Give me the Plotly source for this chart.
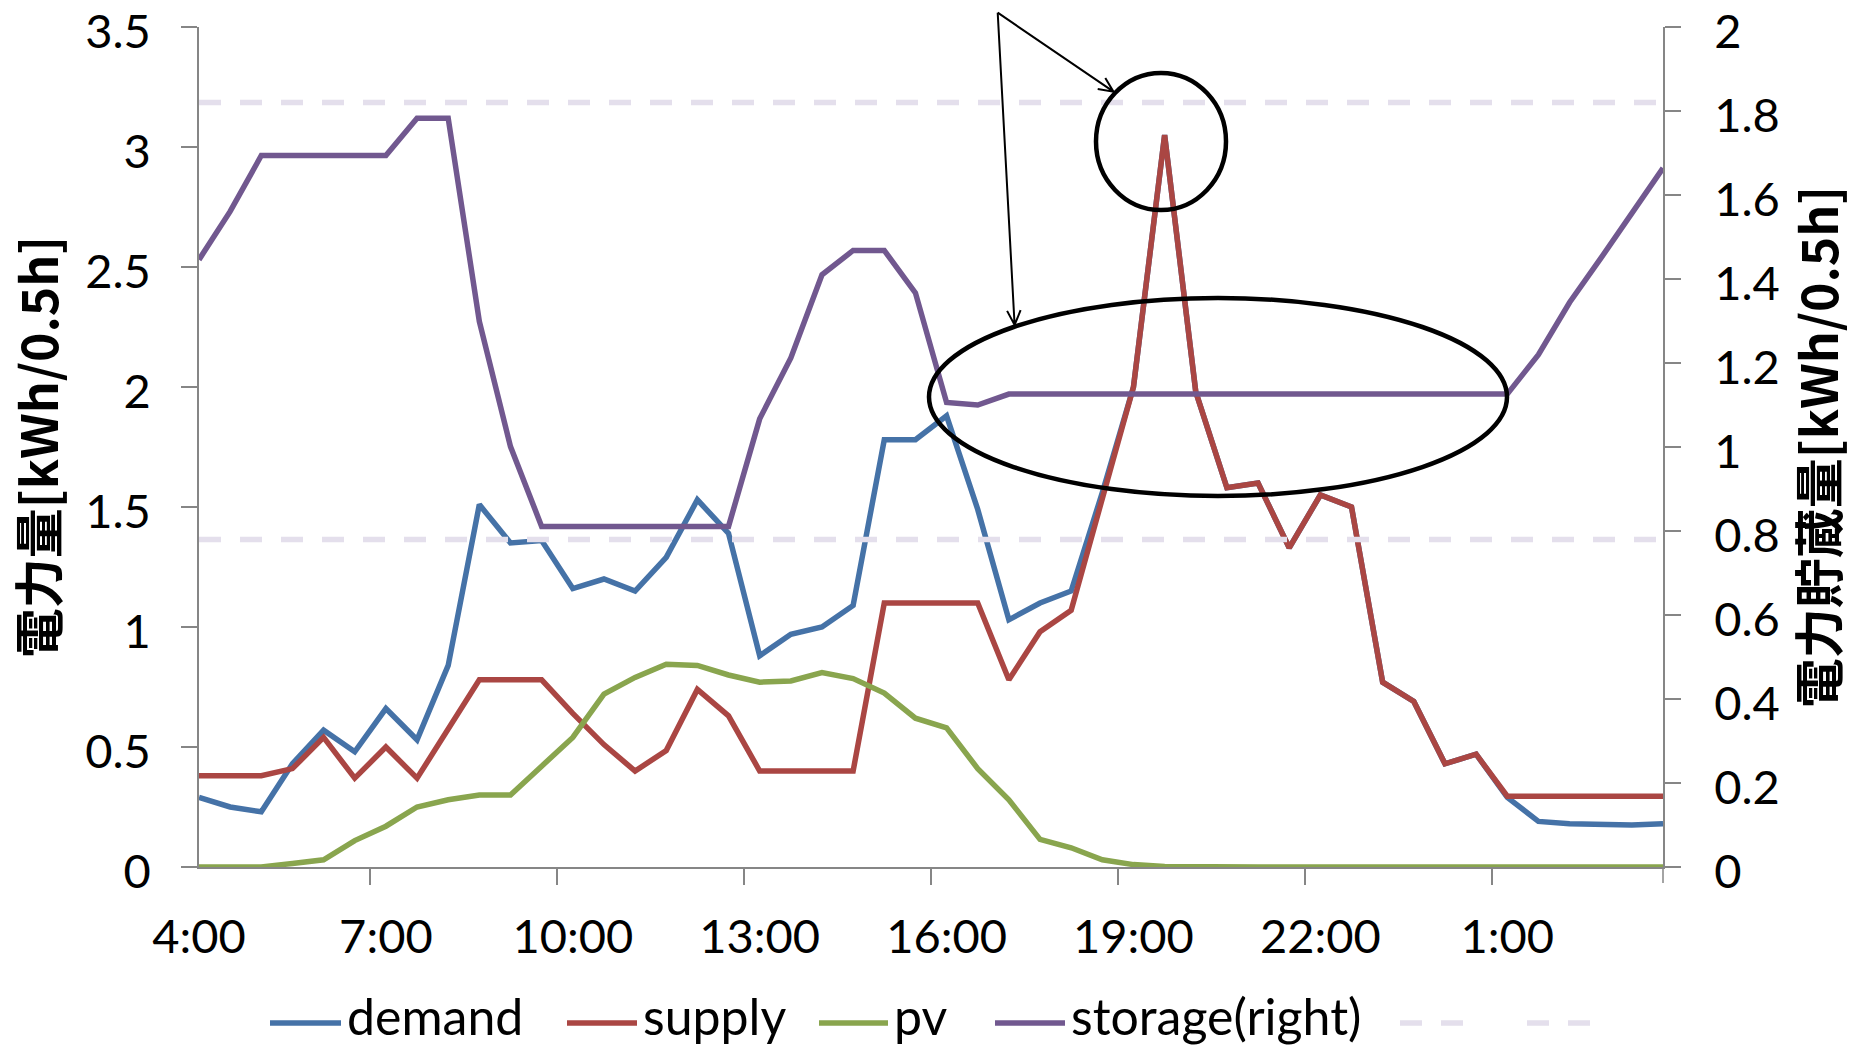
import plotly.graph_objects as go

# ---------------- data ----------------
times = ["4:00", "4:30", "5:00", "5:30", "6:00", "6:30", "7:00", "7:30",
         "8:00", "8:30", "9:00", "9:30", "10:00", "10:30", "11:00", "11:30",
         "12:00", "12:30", "13:00", "13:30", "14:00", "14:30", "15:00", "15:30",
         "16:00", "16:30", "17:00", "17:30", "18:00", "18:30", "19:00", "19:30",
         "20:00", "20:30", "21:00", "21:30", "22:00", "22:30", "23:00", "23:30",
         "0:00", "0:30", "1:00", "1:30", "2:00", "2:30", "3:00", "3:30"]

demand = [0.29, 0.25, 0.23, 0.43, 0.57, 0.48, 0.66, 0.53, 0.84, 1.51,
          1.35, 1.36, 1.16, 1.20, 1.15, 1.29, 1.53, 1.39, 0.88, 0.97,
          1.00, 1.09, 1.78, 1.78, 1.88, 1.49, 1.03, 1.10, 1.15, 1.56,
          2.00, 3.05, 1.98, 1.58, 1.60, 1.33, 1.55, 1.50, 0.77, 0.69,
          0.43, 0.47, 0.29, 0.19, 0.18, 0.175, 0.175, 0.18]

supply = [0.38, 0.38, 0.38, 0.41, 0.54, 0.37, 0.50, 0.37, 0.58, 0.78,
          0.78, 0.78, 0.64, 0.51, 0.40, 0.485, 0.74, 0.63, 0.40, 0.40,
          0.40, 0.40, 1.10, 1.10, 1.10, 1.10, 0.78, 0.98, 1.07, 1.53,
          2.00, 3.05, 1.98, 1.58, 1.60, 1.33, 1.55, 1.50, 0.77, 0.69,
          0.43, 0.47, 0.295, 0.295, 0.295, 0.295, 0.295, 0.295]

pv = [0.0, 0.0, 0.0, 0.015, 0.03, 0.11, 0.17, 0.25, 0.28, 0.30,
      0.30, 0.42, 0.54, 0.72, 0.79, 0.845, 0.84, 0.80, 0.77, 0.775,
      0.81, 0.785, 0.725, 0.62, 0.58, 0.41, 0.28, 0.115, 0.08, 0.03,
      0.01, 0.002, 0.0, 0.0, 0.0, 0.0, 0.0, 0.0, 0.0, 0.0,
      0.0, 0.0, 0.0, 0.0, 0.0, 0.0, 0.0, 0.0]

storage = [1.446, 1.561, 1.694, 1.694, 1.694, 1.694, 1.694, 1.783, 1.783, 1.299,
           1.001, 0.811, 0.811, 0.811, 0.811, 0.811, 0.811, 0.811, 1.067, 1.212,
           1.41, 1.468, 1.468, 1.367, 1.106, 1.10, 1.126, 1.126, 1.126, 1.126,
           1.126, 1.126, 1.126, 1.126, 1.126, 1.126, 1.126, 1.126, 1.126, 1.126,
           1.126, 1.126, 1.126, 1.22, 1.344, 1.449, 1.556, 1.664]

limit_upper = [1.82] * len(times)
limit_lower = [0.78] * len(times)

series_names = ["demand", "supply", "pv", "storage(right)"]

left_ticks = [0, 0.5, 1, 1.5, 2, 2.5, 3, 3.5]
right_ticks = [0, 0.2, 0.4, 0.6, 0.8, 1, 1.2, 1.4, 1.6, 1.8, 2]

# ---------------- style ----------------
C_DEMAND = "#4572A7"
C_SUPPLY = "#AA4643"
C_PV = "#89A54E"
C_STORAGE = "#71588F"
C_LIMIT = "#E4DFEC"
C_AXIS = "#868686"
LW = 5.5
LIMIT_DASH = "22px,19px"

fig = go.Figure()
fig.add_trace(go.Scatter(x=times, y=demand, name=series_names[0], mode="lines",
                         line=dict(color=C_DEMAND, width=LW)))
fig.add_trace(go.Scatter(x=times, y=supply, name=series_names[1], mode="lines",
                         line=dict(color=C_SUPPLY, width=LW)))
fig.add_trace(go.Scatter(x=times, y=pv, name=series_names[2], mode="lines",
                         line=dict(color=C_PV, width=LW)))
fig.add_trace(go.Scatter(x=times, y=storage, name=series_names[3], mode="lines",
                         yaxis="y2", line=dict(color=C_STORAGE, width=LW)))
fig.add_trace(go.Scatter(x=times, y=limit_upper, name="", mode="lines", yaxis="y2",
                         line=dict(color=C_LIMIT, width=5.5, dash=LIMIT_DASH)))
fig.add_trace(go.Scatter(x=times, y=limit_lower, name="", mode="lines", yaxis="y2",
                         line=dict(color=C_LIMIT, width=5.5, dash=LIMIT_DASH)))

# plot area in pixels
W, H = 1861, 1048
L, R, T, B = 199, 198, 27, 181
PW, PH = W - L - R, H - T - B


def px(xp):
    return (xp - L) / PW


def py(yp):
    return (H - B - yp) / PH


axis_common = dict(showline=True, linecolor=C_AXIS, linewidth=1.5,
                   ticks="outside", ticklen=16, tickwidth=1.5, tickcolor=C_AXIS,
                   showgrid=False, zeroline=False, automargin=False,
                   tickfont=dict(family="Lato", size=47, color="black"))

title_font = dict(family="Noto Sans CJK JP", size=50, weight="bold", color="black")

fig.update_layout(
    width=W, height=H,
    margin=dict(l=L, r=R, t=T, b=B, pad=0, autoexpand=False),
    paper_bgcolor="white", plot_bgcolor="white",
    font=dict(family="Lato", size=47, color="black"),
    xaxis=dict(type="category", tickson="boundaries", dtick=6, tick0=0,
               tickangle=0, ticklabelstandoff=28, **axis_common),
    yaxis=dict(range=[0, 3.5], tickmode="array", tickvals=left_ticks,
               ticklabelstandoff=21, ticklabelshift=5, ticklabeloverflow="allow",
               title=dict(text="電力量[kWh/0.5h]", standoff=14, font=title_font),
               **axis_common),
    yaxis2=dict(range=[0, 2], tickmode="array", tickvals=right_ticks,
                overlaying="y", side="right", ticklabelstandoff=24,
                ticklabelshift=5, ticklabeloverflow="allow",
                title=dict(text="電力貯蔵量[kWh/0.5h]", standoff=14, font=title_font),
                **axis_common),
    showlegend=False,
)

# closing tick at the right end of the category axis
fig.add_shape(type="line", xref="paper", yref="paper", x0=1, x1=1,
              y0=0, y1=py(H - B + 16), line=dict(color=C_AXIS, width=1.5))

# ---------------- legend row (line samples + labels) ----------------
LEG_Y = 1023
legend_items = [  # (line start px, line end px, label, colour, dash)
    (270, 341, series_names[0], C_DEMAND, "solid"),
    (567, 637, series_names[1], C_SUPPLY, "solid"),
    (819, 888, series_names[2], C_PV, "solid"),
    (995, 1065, series_names[3], C_STORAGE, "solid"),
    (1400, 1466, "", C_LIMIT, LIMIT_DASH),
    (1527, 1593, "", C_LIMIT, LIMIT_DASH),
]
for x0, x1, label, color, dash in legend_items:
    fig.add_shape(type="line", xref="paper", yref="paper",
                  x0=px(x0), x1=px(x1), y0=py(LEG_Y), y1=py(LEG_Y),
                  line=dict(color=color, width=LW, dash=dash))
    if label:
        fig.add_annotation(xref="paper", yref="paper", x=px(x1 + 5), y=py(H - 1),
                           xanchor="left", yanchor="bottom", showarrow=False,
                           text=label, borderpad=0,
                           font=dict(family="Lato", size=50, color="black"))

# highlight ellipses
fig.add_shape(type="circle", xref="paper", yref="paper",
              x0=px(1096), x1=px(1226), y0=py(210), y1=py(73),
              line=dict(color="black", width=4.5))
fig.add_shape(type="circle", xref="paper", yref="paper",
              x0=px(929), x1=px(1507), y0=py(496), y1=py(298),
              line=dict(color="black", width=4.5))

# arrows (open V heads) from a common origin
tail = (997.7, 12.7)
arrows = [((1113.5, 91.7), (1105.3, 77.9), (1097.7, 89.1)),
          ((1014.6, 325.0), (1020.6, 310.2), (1007.1, 310.9))]
for head, a, b in arrows:
    path = (f"M {px(tail[0])} {py(tail[1])} L {px(head[0])} {py(head[1])} "
            f"M {px(a[0])} {py(a[1])} L {px(head[0])} {py(head[1])} L {px(b[0])} {py(b[1])}")
    fig.add_shape(type="path", xref="paper", yref="paper", path=path,
                  line=dict(color="black", width=2))

fig.write_html("out.html")
